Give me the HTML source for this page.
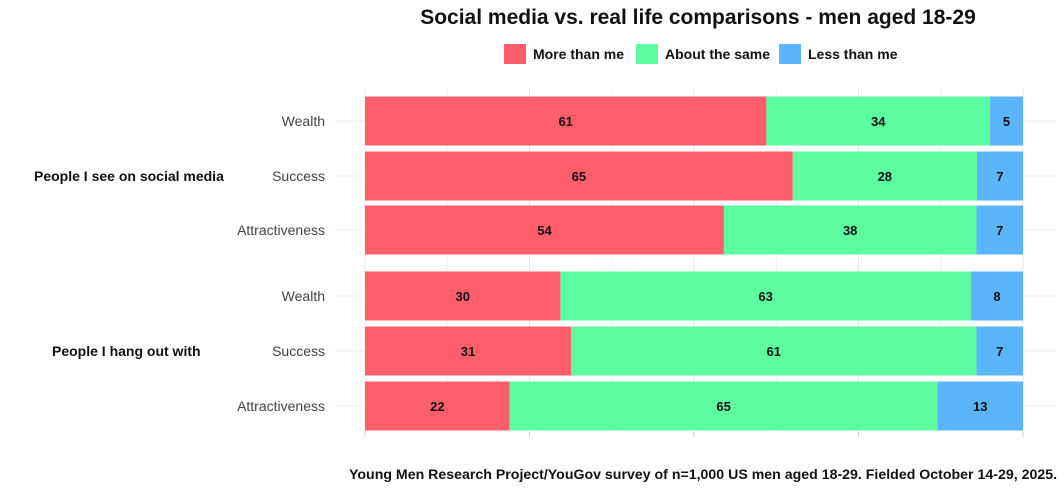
<!DOCTYPE html>
<html><head><meta charset="utf-8"><style>
body{margin:0;background:#fff;width:1064px;height:490px;overflow:hidden;font-family:"Liberation Sans",sans-serif}
</style></head><body>
<svg width="1064" height="490" xmlns="http://www.w3.org/2000/svg">
<text x="698" y="24" text-anchor="middle" font-size="21" font-weight="bold" fill="#111">Social media vs. real life comparisons - men aged 18-29</text>
<g id="legend"></g>
<g id="grid"></g>
<g id="bars"></g>
<g id="labels"></g>
<text x="1057" y="479" text-anchor="end" font-size="14" font-weight="bold" fill="#111" textLength="708" lengthAdjust="spacingAndGlyphs">Young Men Research Project/YouGov survey of n=1,000 US men aged 18-29. Fielded October 14-29, 2025.</text>
</svg>
<script>
const categories=["Wealth","Success","Attractiveness","Wealth","Success","Attractiveness"];
const groups=["People I see on social media","People I hang out with"];
const seriesNames=["More than me","About the same","Less than me"];
const moreThanMe=[61,65,54,30,31,22];
const aboutSame=[34,28,38,63,61,65];
const lessThanMe=[5,7,7,8,7,13];
const colors=["#fe5f6b","#5dfca1","#5bb5fd"];
const NS="http://www.w3.org/2000/svg";
function mk(t,a,p){const e=document.createElementNS(NS,t);for(const k in a)e.setAttribute(k,a[k]);p.appendChild(e);return e;}
const x0=365,x1=1023;
const xs=v=>x0+(x1-x0)*v/100;
const rowY=[121,176,230,296,351,406];
const bh=49;
const grid=document.getElementById('grid');
for(let t=0;t<=100;t+=12.5){const l=mk('line',{x1:xs(t),x2:xs(t),y1:88,y2:432,stroke:t%25==0?'#e6e6e6':'#f2f2f2','stroke-width':1},grid);

}
rowY.forEach(y=>{const l=mk('line',{x1:335,x2:1056,y1:y,y2:y,stroke:'#ececec'},grid);

});
for(let t=0;t<=100;t+=25){const l=mk('line',{x1:xs(t),x2:xs(t),y1:432,y2:437,stroke:'#ccc'},grid);

}
const bars=document.getElementById('bars');
const series=[moreThanMe,aboutSame,lessThanMe];
categories.forEach((c,i)=>{
 const tot=moreThanMe[i]+aboutSame[i]+lessThanMe[i];let acc=0;
 series.forEach((s,j)=>{
  const v=s[i]*100/tot;const xa=xs(acc),xb=xs(acc+v);
  const r=mk('rect',{x:xa,y:rowY[i]-bh/2,width:xb-xa,height:bh,fill:colors[j]},bars);
  
  
  const t=mk('text',{x:(xa+xb)/2,y:rowY[i]+5,'text-anchor':'middle','font-size':13,'font-weight':'bold',fill:'#111'},bars);
  t.textContent=s[i];
  
  
  acc+=v;});
});
const lab=document.getElementById('labels');
categories.forEach((c,i)=>{const t=mk('text',{x:325,y:rowY[i]+5,'text-anchor':'end','font-size':14,fill:'#444'},lab);t.textContent=c;

});
[[34,181],[52,356]].forEach((p,i)=>{const t=mk('text',{x:p[0],y:p[1],'font-size':14,'font-weight':'bold',fill:'#111'},lab);t.textContent=groups[i];

});
const leg=document.getElementById('legend');
const lx=[504,636,779];
seriesNames.forEach((n,j)=>{const r=mk('rect',{x:lx[j],y:44,width:22,height:20,fill:colors[j]},leg);


const t=mk('text',{x:lx[j]+29,y:59,'font-size':14,'font-weight':'bold',fill:'#111'},leg);t.textContent=n;

});
</script>
</body></html>
